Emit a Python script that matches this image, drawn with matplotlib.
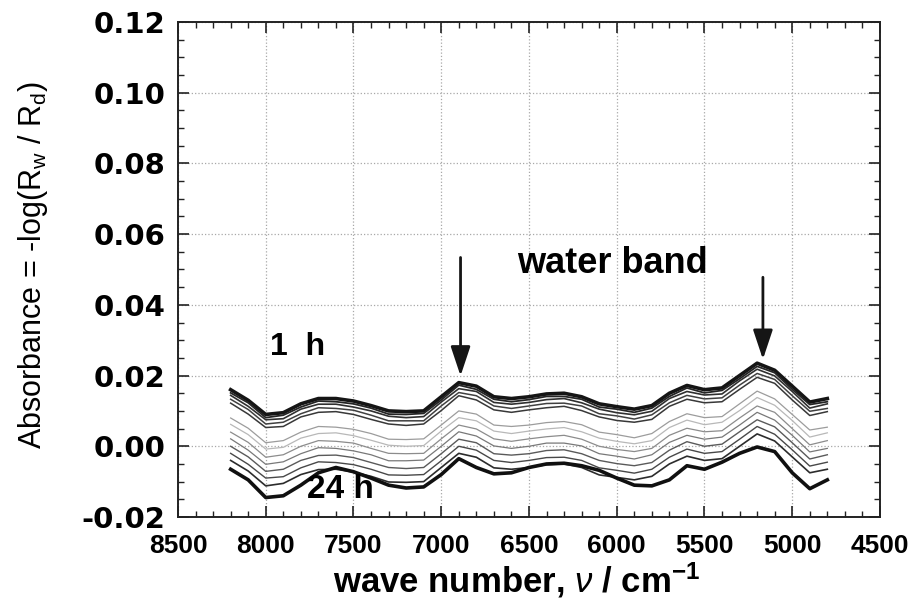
import matplotlib
matplotlib.use("Agg")
import matplotlib.pyplot as plt
from matplotlib.ticker import MultipleLocator
import numpy as np

plt.rcParams['font.family'] = ['Liberation Sans', 'DejaVu Sans']
plt.rcParams['mathtext.fontset'] = 'custom'
plt.rcParams['mathtext.rm'] = 'Liberation Sans'
plt.rcParams['mathtext.it'] = 'Liberation Sans:italic'
plt.rcParams['mathtext.bf'] = 'Liberation Sans:bold'
plt.rcParams['axes.unicode_minus'] = False

# wave numbers (cm-1) of the sampled points
wavenumber = [8200, 8100, 8000, 7900, 7800, 7700, 7600, 7500, 7400, 7300,
              7200, 7100, 7000, 6900, 6800, 6700, 6600, 6500, 6400, 6300,
              6200, 6100, 6000, 5900, 5800, 5700, 5600, 5500, 5400, 5300,
              5200, 5100, 5000, 4900, 4800]

# absorbance spectra, in units of 1e-3, from 1 h (top) to 24 h (bottom)
abs_1h = [16.0, 13.0, 9.0, 9.5, 12.0, 13.5, 13.5, 12.8, 11.5, 10.0,
          9.8, 10.0, 14.0, 18.0, 17.0, 14.0, 13.5, 14.0, 14.8, 15.0,
          14.0, 12.0, 11.2, 10.5, 11.5, 15.0, 17.2, 16.0, 16.5, 20.0,
          23.5, 21.5, 17.0, 12.5, 13.5]
abs_2h = [15.1, 12.3, 8.1, 8.8, 11.1, 12.8, 12.6, 12.0, 10.8, 9.1,
          9.0, 9.3, 13.1, 17.3, 16.1, 13.3, 12.6, 13.2, 14.1, 14.1,
          13.3, 11.1, 10.5, 9.6, 10.8, 14.1, 16.5, 15.1, 15.8, 19.1,
          22.6, 20.8, 16.1, 11.8, 12.6]
abs_3h = [14.4, 11.3, 7.5, 7.8, 10.5, 11.9, 11.9, 11.1, 10.0, 8.5,
          8.1, 8.4, 12.5, 16.3, 15.5, 12.4, 11.9, 12.4, 13.2, 13.5,
          12.3, 10.5, 9.5, 8.9, 9.9, 13.5, 15.5, 14.5, 14.8, 18.5,
          21.8, 19.9, 15.5, 10.8, 12.0]
abs_4h = [13.3, 10.4, 6.3, 6.8, 9.2, 10.9, 10.7, 10.2, 8.8, 7.2,
          7.2, 7.2, 11.4, 15.2, 14.3, 11.4, 10.7, 11.4, 12.1, 12.2,
          11.4, 9.2, 8.6, 7.7, 8.9, 12.3, 14.4, 13.4, 13.7, 17.3,
          20.6, 18.9, 14.3, 9.9, 10.7]
abs_5h = [12.2, 9.1, 5.3, 5.6, 8.3, 9.6, 9.8, 9.0, 7.6, 6.3,
          5.9, 6.3, 10.1, 14.3, 13.1, 10.3, 9.6, 10.3, 10.9, 11.3,
          10.1, 8.3, 7.3, 6.8, 7.6, 11.3, 13.3, 12.3, 12.6, 16.1,
          19.5, 17.8, 13.1, 8.7, 9.8]
abs_6h = [8.0, 5.1, 1.0, 1.6, 4.0, 5.6, 5.4, 4.8, 3.6, 2.0,
          1.9, 2.1, 6.0, 10.0, 9.1, 6.0, 5.6, 6.0, 6.7, 7.0,
          6.1, 4.0, 3.3, 2.4, 3.6, 7.0, 9.2, 8.1, 8.4, 12.0,
          15.6, 13.4, 9.0, 4.6, 5.4]
abs_8h = [6.2, 3.3, -0.8, -0.3, 2.3, 3.6, 3.8, 3.0, 1.7, 0.3,
          0.0, 0.2, 4.3, 8.1, 7.2, 4.3, 3.6, 4.3, 4.9, 5.3,
          4.1, 2.3, 1.4, 0.7, 1.6, 5.3, 7.4, 6.1, 6.8, 10.1,
          13.8, 11.6, 7.3, 2.6, 3.8]
abs_10h = [4.0, 1.1, -3.1, -2.4, 0.0, 1.6, 1.4, 0.9, -0.6, -2.0,
           -2.1, -2.0, 2.1, 6.0, 4.9, 2.1, 1.4, 2.1, 2.7, 3.1,
           2.0, 0.0, -0.9, -1.5, -0.6, 3.1, 5.1, 4.1, 4.4, 8.0,
           11.4, 9.6, 5.0, 0.4, 1.6]
abs_12h = [2.1, -1.1, -5.1, -4.4, -2.1, -0.4, -0.6, -1.3, -2.4, -4.1,
           -4.1, -3.9, 0.0, 4.1, 2.9, 0.1, -0.6, 0.0, 0.9, 0.9,
           0.1, -2.1, -2.8, -3.6, -2.4, 1.1, 3.1, 2.0, 2.6, 6.0,
           9.6, 7.4, 3.1, -1.6, -0.6]
abs_14h = [0.0, -3.0, -7.1, -6.5, -4.0, -2.6, -2.5, -3.2, -4.6, -6.0,
           -6.3, -6.0, -2.1, 2.0, 1.0, -2.1, -2.5, -2.1, -1.2, -1.0,
           -2.1, -4.0, -4.9, -5.5, -4.6, -1.1, 1.3, 0.0, 0.6, 4.1,
           7.5, 5.5, 1.0, -3.6, -2.4]
abs_16h = [-2.0, -5.1, -9.0, -8.6, -6.1, -4.4, -4.6, -5.2, -6.5, -8.1,
           -8.2, -8.0, -4.1, 0.0, -1.1, -4.0, -4.6, -4.0, -3.2, -3.1,
           -4.0, -6.1, -6.8, -7.6, -6.5, -3.1, -0.8, -2.0, -1.5, 2.0,
           5.6, 3.4, -1.0, -5.6, -4.5]
abs_20h = [-4.0, -7.0, -11.2, -10.5, -8.0, -6.6, -6.5, -7.3, -8.5, -10.1,
           -10.2, -10.0, -6.0, -2.0, -3.1, -6.1, -6.5, -6.0, -5.2, -5.0,
           -6.0, -8.1, -8.8, -9.5, -8.5, -5.0, -2.8, -4.0, -3.5, 0.0,
           3.5, 1.5, -3.0, -7.5, -6.5]
abs_24h = [-6.5, -9.5, -14.5, -14.0, -11.0, -7.5, -6.0, -7.2, -9.0, -11.0,
           -11.8, -11.5, -8.0, -3.5, -6.0, -7.8, -7.5, -6.0, -5.0, -4.8,
           -5.5, -6.8, -9.0, -11.0, -11.2, -9.5, -5.5, -6.5, -4.5, -2.0,
           -0.2, -1.5, -7.5, -12.0, -9.5]

spectra = [abs_1h, abs_2h, abs_3h, abs_4h, abs_5h, abs_6h, abs_8h,
           abs_10h, abs_12h, abs_14h, abs_16h, abs_20h, abs_24h]
line_colors = ['#151515', '#252525', '#303030', '#404040', '#383838',
               '#9c9c9c', '#b8b8b8', '#8c8c8c', '#787878', '#5a5a5a',
               '#484848', '#2c2c2c', '#101010']
line_widths = [2.6, 1.3, 1.2, 1.1, 1.1, 0.9, 0.9, 0.9, 0.9, 1.0, 1.0, 1.2, 2.6]

fig = plt.figure(figsize=(9.1, 6.08), dpi=100)
ax = fig.add_axes([0.1956, 0.1497, 0.7714, 0.8141])

x = np.array(wavenumber)
for spec, c, lw in zip(spectra, line_colors, line_widths):
    ax.plot(x, np.array(spec) / 1000.0, color=c, lw=lw)

ax.set_xlim(8500, 4500)
ax.set_ylim(-0.02, 0.12)
ax.xaxis.set_major_locator(MultipleLocator(500))
ax.xaxis.set_minor_locator(MultipleLocator(100))
ax.yaxis.set_major_locator(MultipleLocator(0.02))
ax.yaxis.set_minor_locator(MultipleLocator(0.005))
ax.yaxis.set_major_formatter(matplotlib.ticker.FormatStrFormatter('%.2f'))

ax.grid(True, which='major', linestyle=':', color='#a8a8a8', lw=0.9)
ax.tick_params(which='both', direction='in', top=True, right=True, color='#222222')
ax.tick_params(which='major', length=8, width=1.2)
ax.tick_params(which='minor', length=4, width=1.0)
ax.tick_params(axis='x', pad=12)
ax.tick_params(axis='y', pad=9)
for s in ax.spines.values():
    s.set_linewidth(1.4)
    s.set_color('#222222')

for lab in ax.get_yticklabels():
    lab.set_family('DejaVu Sans')
    lab.set_fontweight('bold')
    lab.set_fontsize(21)
for lab in ax.get_xticklabels():
    lab.set_fontweight('bold')
    lab.set_fontsize(19)

ax.set_ylabel(r'Absorbance = -log(R$_{\mathrm{w}}$ / R$_{\mathrm{d}}$)', fontsize=22)
ax.yaxis.set_label_coords(-0.182, 0.509)
ax.set_xlabel(r'wave number, $\nu$ / cm$^{\mathbf{-1}}$', fontsize=25, fontweight='bold')
ax.xaxis.set_label_coords(0.483, -0.088)

ax.text(6027, 0.0517, 'water band', fontsize=26, fontweight='bold', ha='center', va='center')
ax.text(7976, 0.028, '1  h', fontsize=23, fontweight='bold', ha='left', va='center')
ax.text(7577, -0.0123, '24 h', fontsize=24, fontweight='bold', ha='center', va='center')

arrow_style = dict(arrowstyle='-|>,head_length=0.9,head_width=0.3', color='#151515',
                   lw=2, mutation_scale=20, shrinkA=0, shrinkB=0)
ax.annotate('', xy=(6890, 0.0199), xytext=(6890, 0.0534), arrowprops=arrow_style)
ax.annotate('', xy=(5167, 0.0246), xytext=(5167, 0.0478), arrowprops=arrow_style)

fig.savefig('out.png', dpi=100)
